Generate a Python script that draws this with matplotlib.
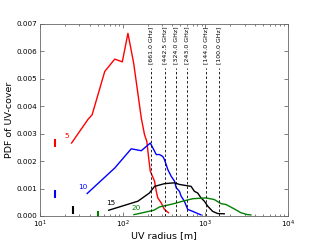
#!/usr/bin/env python3

import numpy as np
import matplotlib
matplotlib.use('Agg')
import matplotlib.pyplot as plt

# UV radius [m] and PDF for each configuration
u5 = [24.1, 38.2, 42.7, 60.7, 80.2, 99, 115.8, 135.9, 168, 184, 196, 207.5, 216,
      243, 255, 266, 292, 320, 358]
p5 = [0.00266, 0.00353, 0.00369, 0.00527, 0.00572, 0.00562, 0.00666, 0.00557,
      0.00357, 0.00296, 0.00272, 0.00205, 0.00163, 0.00127, 0.0009, 0.00066,
      0.00048, 0.00024, 0.00012]

u10 = [37.2, 80.2, 127, 168, 216, 255, 279, 306, 321, 336, 352, 386, 424, 444,
       486, 510, 558, 612, 703, 807, 887]
p10 = [0.00082, 0.00175, 0.00245, 0.00238, 0.00266, 0.00224, 0.00224, 0.00217,
       0.00205, 0.00187, 0.00169, 0.00145, 0.00127, 0.00103, 0.0009, 0.00072,
       0.00054, 0.00024, 0.00017, 0.00009, 0.00004]

u15 = [67.8, 153, 211, 243, 321, 424, 486, 673, 737, 807, 887, 973, 1067, 1225,
       1407, 1693]
p15 = [0.00021, 0.00054, 0.00084, 0.00108, 0.00118, 0.00121, 0.00115, 0.00108,
       0.0009, 0.00084, 0.00066, 0.00054, 0.00036, 0.00017, 0.00009, 0.00008]

u20 = [137, 238, 279, 404, 533, 703, 1019, 1283, 1545, 1775, 2234, 2690, 3236,
       3555]
p20 = [0.00005, 0.00021, 0.00033, 0.00044, 0.00054, 0.00063, 0.00066, 0.0006,
       0.00045, 0.00042, 0.00026, 0.00012, 0.00005, 0.00004]

labels = ['5', '10', '15', '20']
min_radius = [15, 15, 25, 50]

freq_labels = ['661.0', '442.5', '324.0', '243.0', '144.0', '100.0']
freq_radius = [222, 327, 444, 596, 1018, 1445]

plt.rcParams['font.size'] = 5
plt.rcParams['axes.linewidth'] = 0.6
plt.rcParams['axes.edgecolor'] = '0.4'

fig = plt.figure(figsize=(3.2, 2.4), dpi=100)
ax = fig.add_axes([0.125, 0.1, 0.775, 0.8])

series = [(u5, p5), (u10, p10), (u15, p15), (u20, p20)]
colors = ['r', 'b', 'k', 'g']
offsets = [(-3.5, 5), (-3, 5), (1.2, 5.5), (1.7, 4.8)]

for (u, p), lab, c, umin, off in zip(series, labels, colors, min_radius, offsets):
    ax.plot(u, p, color=c, lw=1)
    ax.plot([umin], [p[0]], marker='|', color=c, ms=6, mew=1.5)
    ax.annotate(lab, (u[0], p[0]), xytext=off, textcoords='offset points',
                color=c, fontsize=5.2, ha='center', va='center')

for r, f in zip(freq_radius, freq_labels):
    ax.plot([r, r], [0, 0.0054], color='k', ls='--', lw=0.6, dashes=(3, 2.5))
    ax.text(r, 0.00555, '[%s GHz]' % f, rotation=90, ha='center', va='bottom',
            fontsize=4.5)

ax.set_xscale('log')
ax.set_xlim(10, 1e4)
ax.set_ylim(0, 0.007)
ax.yaxis.set_major_formatter(plt.FormatStrFormatter('%.3f'))
ax.tick_params(which='both', direction='in', top=True, right=True, pad=2,
               labelsize=5.2, color='0.3')
ax.tick_params(which='major', length=3, width=0.5)
ax.tick_params(which='minor', length=1.5, width=0.5)
ax.set_xlabel('UV radius [m]', fontsize=6.8, labelpad=1)
ax.set_ylabel('PDF of UV-cover', fontsize=6.8, labelpad=2)

fig.savefig('out.png', dpi=100)
